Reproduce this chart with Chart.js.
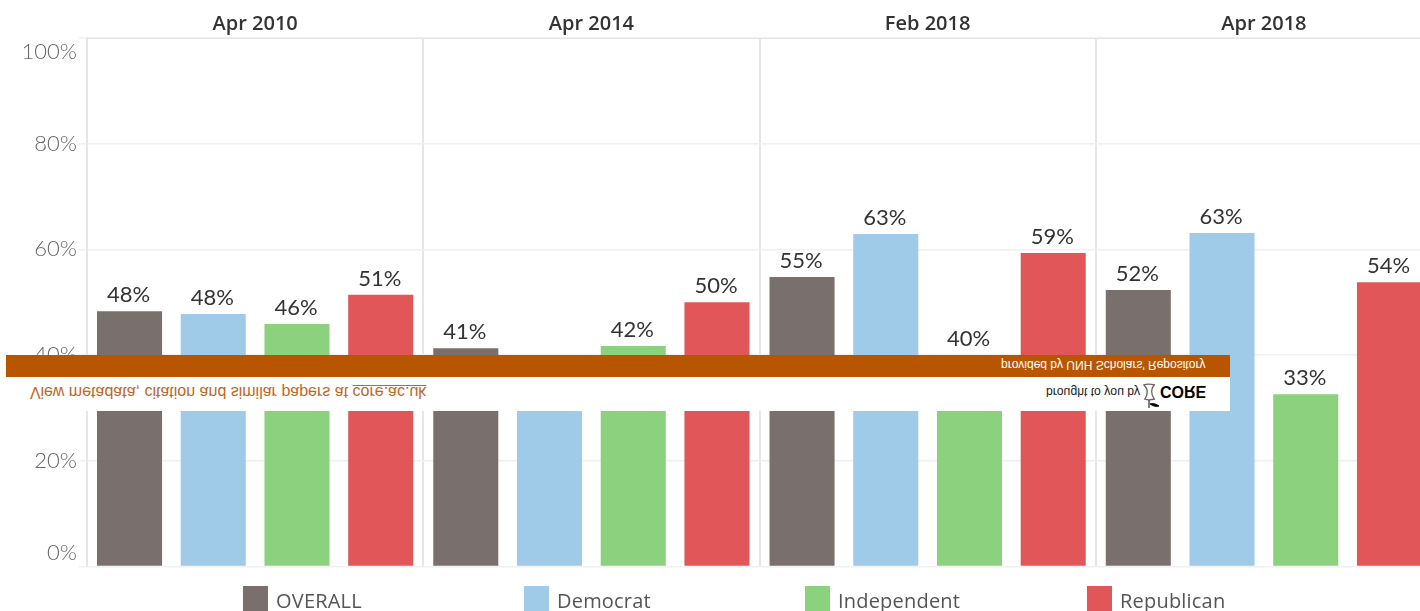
<!DOCTYPE html>
<html>
<head>
<meta charset="utf-8">
<title>Chart</title>
<script src="https://cdn.jsdelivr.net/npm/chart.js@4"></script>
<style>
html,body{margin:0;padding:0;background:#fff;overflow:hidden}
#wrap{position:relative;width:1420px;height:611px;overflow:hidden}
#cv{position:absolute;left:0;top:0}
.lg{position:absolute;top:586px;height:25px;font:20px "Open Sans",sans-serif;color:#555;line-height:29px;white-space:nowrap;letter-spacing:.2px}
.lg i{display:inline-block;width:25px;height:25px;vertical-align:top;margin-right:8px}
#band{position:absolute;left:6px;top:355px;width:1224px;height:22px;background:#b85600}
#strip{position:absolute;left:6px;top:377px;width:1224px;height:34px;background:#fff}
.flip{position:absolute;white-space:nowrap;transform:scaleY(-1);font-family:"Liberation Sans",Arial,sans-serif}
</style>
</head>
<body>
<div id="wrap">
  <canvas id="cv" width="1432" height="611"></canvas>
  <div id="band"></div>
  <div id="strip"></div>
  <div class="flip" style="left:30px;top:383px;font-size:16px;color:#c1661f">View metadata, citation and similar papers at <span style="text-decoration:underline">core.ac.uk</span></div>
  <div class="flip" style="left:1001px;top:358px;font-size:12px;color:#fff">provided by UNH Scholars' Repository</div>
  <div class="flip" style="left:1046px;top:385px;font-size:12.2px;color:#222">brought to you by</div>
  <div class="flip" style="left:1160px;top:382px;font-size:16px;font-weight:bold;color:#000">CORE</div>
  <svg style="position:absolute;left:1141px;top:383px" width="19" height="26" viewBox="0 0 19 26">
    <path d="M2 2c3-1 8-1 12 0M3 2c4 4 4 9 1 14M13 2c-3 4-3 9 0 14M3 16c3 1 7 1 11 0" fill="none" stroke="#666" stroke-width="1.3"/>
    <path d="M8 17v8M9 21c3-1 6 0 9 2-3 1-6 0-9-2z" fill="#000" stroke="#000" stroke-width="1"/>
  </svg>
</div>
<script>
const waves=["Apr 2010","Apr 2014","Feb 2018","Apr 2018"];
const seriesNames=["OVERALL","Democrat","Independent","Republican"];
const seriesColors=["#79706e","#a0cbe8","#8cd17d","#e15759"];
const overall=[48.3,41.3,54.8,52.3];
const democrat=[47.8,34,62.9,63.1]; // Apr 2014 is hidden behind the banner, estimated
const independent=[45.9,41.7,40,32.6];
const republican=[51.4,50,59.3,53.8];
const yTicks=[0,20,40,60,80,100];
const legendX=[243,524,805,1087];

const allValues=[overall,democrat,independent,republican];

// legend
const wrap=document.getElementById("wrap");
const band=document.getElementById("band");
seriesNames.forEach((n,i)=>{
  const d=document.createElement("div");
  d.className="lg"; d.style.left=legendX[i]+"px";
  d.innerHTML=`<i style="background:${seriesColors[i]}"></i>${n}`;
  wrap.insertBefore(d,band);
});

// value labels over the bars
const barLabels={
  id:"barLabels",
  afterDatasetsDraw(chart){
    const c=chart.ctx;
    c.save();
    c.font='22px Lato, sans-serif';
    c.fillStyle="#333";
    c.textAlign="center"; c.textBaseline="bottom";
    chart.data.datasets.forEach((ds,i)=>{
      chart.getDatasetMeta(i).data.forEach((bar,j)=>{
        c.fillText(Math.round(ds.data[j])+"%",bar.x-1,bar.y-5);
      });
    });
    c.restore();
  }
};

new Chart(document.getElementById("cv"),{
  type:"bar",
  data:{
    labels:waves,
    datasets:seriesNames.map((n,i)=>({label:n,data:allValues[i],backgroundColor:seriesColors[i]}))
  },
  options:{
    responsive:false,
    animation:false,
    devicePixelRatio:1,
    layout:{padding:{top:0,right:0,bottom:44.5,left:0}},
    datasets:{bar:{categoryPercentage:0.996,barPercentage:0.777}},
    plugins:{legend:{display:false},tooltip:{enabled:false}},
    scales:{
      x:{
        position:"top",
        afterFit(s){s.height=38;},
        grid:{color:"#e6e6e6",lineWidth:2,drawTicks:false},
        border:{color:"#e6e6e6"},
        ticks:{color:"#333",font:{family:"Open Sans",size:20,weight:"600"},padding:2,maxRotation:0}
      },
      y:{
        min:0,max:100,
        afterFit(s){s.width=87;},
        afterBuildTicks(s){s.ticks=yTicks.map(v=>({value:v}));},
        grid:{color:"#f0f0f0",lineWidth:1.5,tickLength:8},
        border:{color:"#e6e6e6",width:1.5},
        ticks:{
          color:"#666",
          font:{family:"Lato",size:22,weight:"300",lineHeight:1.27},
          padding:2,
          // top and bottom labels sit inside the plot, as in the original
          callback(v){
            if(v===100) return ["",v+"%"];
            if(v===0) return [v+"%",""];
            return v+"%";
          }
        }
      }
    }
  },
  plugins:[barLabels]
});
</script>
</body>
</html>
